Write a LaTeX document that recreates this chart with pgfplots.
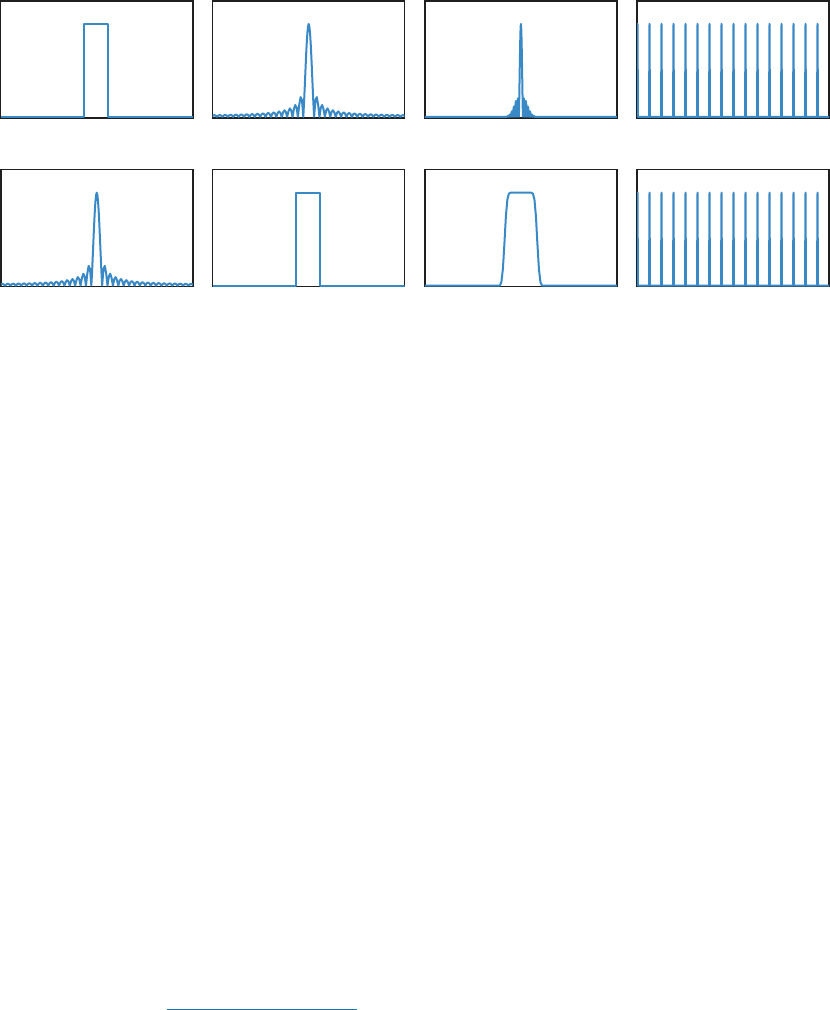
\documentclass[border=0pt]{standalone}
\usepackage{pgfplots}
\usepackage{pgfplotstable}
\pgfplotsset{compat=1.18}
\definecolor{cblue}{RGB}{58,137,199}
\definecolor{lblue}{RGB}{31,119,172}

\pgfplotstableread{
x y
-96 0
-12.5 0
-12.5 1
11.5 1
11.5 0
96 0
}\recttab

\pgfplotstableread{
u y
-18 0
-17.75 0.0127
-17.5 0.0182
-17.25 0.0131
-17 0
-16.75 0.0135
-16.5 0.0193
-16.25 0.0139
-16 0
-15.75 0.0143
-15.5 0.0205
-15.25 0.0148
-15 0
-14.75 0.0153
-14.5 0.0220
-14.25 0.0158
-14 0
-13.75 0.0164
-13.5 0.0236
-13.25 0.0170
-13 0
-12.75 0.0177
-12.5 0.0255
-12.25 0.0184
-12 0
-11.75 0.0192
-11.5 0.0277
-11.25 0.0200
-11 0
-10.75 0.0209
-10.5 0.0303
-10.25 0.0220
-10 0
-9.75 0.0231
-9.5 0.0335
-9.25 0.0243
-9 0
-8.75 0.0257
-8.5 0.0374
-8.25 0.0273
-8 0
-7.75 0.0290
-7.5 0.0424
-7.25 0.0310
-7 0
-6.75 0.0333
-6.5 0.0490
-6.25 0.0360
-6 0
-5.75 0.0391
-5.5 0.0579
-5.25 0.0429
-5 0
-4.75 0.0474
-4.5 0.0707
-4.25 0.0530
-4 0
-3.75 0.0600
-3.5 0.0909
-3.25 0.0693
-3 0
-2.75 0.0818
-2.5 0.1273
-2.25 0.1000
-2 0
-1.75 0.1286
-1.5 0.2122
-1.25 0.1801
-1 0
-0.875 0.1392
-0.75 0.3001
-0.625 0.4705
-0.5 0.6366
-0.375 0.7842
-0.25 0.9003
-0.125 0.9745
0 1
0.125 0.9745
0.25 0.9003
0.375 0.7842
0.5 0.6366
0.625 0.4705
0.75 0.3001
0.875 0.1392
1 0
1.25 0.1801
1.5 0.2122
1.75 0.1286
2 0
2.25 0.1000
2.5 0.1273
2.75 0.0818
3 0
3.25 0.0693
3.5 0.0909
3.75 0.0600
4 0
4.25 0.0530
4.5 0.0707
4.75 0.0474
5 0
5.25 0.0429
5.5 0.0579
5.75 0.0391
6 0
6.25 0.0360
6.5 0.0490
6.75 0.0333
7 0
7.25 0.0310
7.5 0.0424
7.75 0.0290
8 0
8.25 0.0273
8.5 0.0374
8.75 0.0257
9 0
9.25 0.0243
9.5 0.0335
9.75 0.0231
10 0
10.25 0.0220
10.5 0.0303
10.75 0.0209
11 0
11.25 0.0200
11.5 0.0277
11.75 0.0192
12 0
12.25 0.0184
12.5 0.0255
12.75 0.0177
13 0
13.25 0.0170
13.5 0.0236
13.75 0.0164
14 0
14.25 0.0158
14.5 0.0220
14.75 0.0153
15 0
15.25 0.0148
15.5 0.0205
15.75 0.0143
16 0
16.25 0.0139
16.5 0.0193
16.75 0.0135
17 0
17.25 0.0131
17.5 0.0182
17.75 0.0127
18 0
}\sinctab

\pgfplotstableread{
x y
-96 0
-14 0
-13.5 0.006
-13 0.008
-12.5 0.006
-12 0
-11.5 0.018
-11 0.025
-10.5 0.018
-10 0
-9.5 0.042
-9 0.06
-8.5 0.042
-8 0
-7.5 0.078
-7 0.11
-6.5 0.078
-6 0
-5.5 0.12
-5 0.17
-4.5 0.12
-4 0
-3.5 0.14
-3 0.2
-2.5 0.14
-2 0
-1.75 0.139
-1.5 0.300
-1.25 0.471
-1 0.637
-0.75 0.784
-0.5 0.900
-0.25 0.974
0 1
0.25 0.974
0.5 0.900
0.75 0.784
1 0.637
1.25 0.471
1.5 0.300
1.75 0.139
2 0
2.5 0.14
3 0.2
3.5 0.14
4 0
4.5 0.12
5 0.17
5.5 0.12
6 0
6.5 0.078
7 0.11
7.5 0.078
8 0
8.5 0.042
9 0.06
9.5 0.042
10 0
10.5 0.018
11 0.025
11.5 0.018
12 0
12.5 0.006
13 0.008
13.5 0.006
14 0
96 0
}\peaktab

\pgfplotstableread{
x y
-0.2 0
0.3 1
0.8 0
11.8 0
12.3 1
12.8 0
23.8 0
24.3 1
24.8 0
35.8 0
36.3 1
36.8 0
47.8 0
48.3 1
48.8 0
59.8 0
60.3 1
60.8 0
71.8 0
72.3 1
72.8 0
83.8 0
84.3 1
84.8 0
95.8 0
96.3 1
96.8 0
107.8 0
108.3 1
108.8 0
119.8 0
120.3 1
120.8 0
131.8 0
132.3 1
132.8 0
143.8 0
144.3 1
144.8 0
155.8 0
156.3 1
156.8 0
167.8 0
168.3 1
168.8 0
179.8 0
180.3 1
180.8 0
192 0
}\combtab

\pgfplotstableread{
x y
-96 0
-21 0
-19.5 0.04
-18 0.18
-16.5 0.45
-15 0.75
-13.5 0.93
-12 0.99
-10.4 1
10.4 1
12 0.99
13.5 0.93
15 0.75
16.5 0.45
18 0.18
19.5 0.04
21 0
96 0
}\smoothtab

\pgfplotsset{
  panel/.style={width=192pt,height=117pt,scale only axis,
    xtick=\empty,ytick=\empty,ymin=-0.01,ymax=1.25,
    axis line style={draw=black!88,line width=1.5pt},
    anchor=north west},
  curve/.style={cblue,line width=2pt,line join=round,no markers}
}

\begin{document}
\begin{tikzpicture}
% row 1
\begin{axis}[panel,at={(0.75pt,-0.75pt)},xmin=-96,xmax=96]
\addplot[curve] table[x=x,y=y]{\recttab};
\end{axis}
\begin{axis}[panel,at={(212.7pt,-0.75pt)},xmin=-17.8,xmax=17.8]
\addplot[curve] table[x=u,y=y]{\sinctab};
\end{axis}
\begin{axis}[panel,at={(424.9pt,-0.75pt)},xmin=-96,xmax=96]
\addplot[curve] table[x=x,y=y]{\peaktab};
\end{axis}
\begin{axis}[panel,at={(637.2pt,-0.75pt)},xmin=0,xmax=192]
\addplot[curve] table[x=x,y=y]{\combtab};
\end{axis}
% row 2
\begin{axis}[panel,at={(0.75pt,-169.5pt)},xmin=-17.8,xmax=17.8]
\addplot[curve] table[x=u,y=y]{\sinctab};
\end{axis}
\begin{axis}[panel,at={(212.7pt,-169.5pt)},xmin=-96,xmax=96]
\addplot[curve] table[x=x,y=y]{\recttab};
\end{axis}
\begin{axis}[panel,at={(424.9pt,-169.5pt)},xmin=-96,xmax=96]
\addplot[curve] table[x=x,y=y]{\smoothtab};
\end{axis}
\begin{axis}[panel,at={(637.2pt,-169.5pt)},xmin=0,xmax=192]
\addplot[curve] table[x=x,y=y]{\combtab};
\end{axis}
% bottom rule
\begin{axis}[hide axis,scale only axis,width=830pt,height=1010pt,
  at={(0pt,0pt)},anchor=north west,xmin=0,xmax=830,ymin=-1010,ymax=0,clip=false]
\addplot[lblue,line width=1.3pt] coordinates {(166.7,-1009.3) (357.3,-1009.3)};
\end{axis}
\pgfresetboundingbox
\path[use as bounding box] (0pt,0pt) rectangle (830pt,-1010pt);
\end{tikzpicture}
\end{document}
